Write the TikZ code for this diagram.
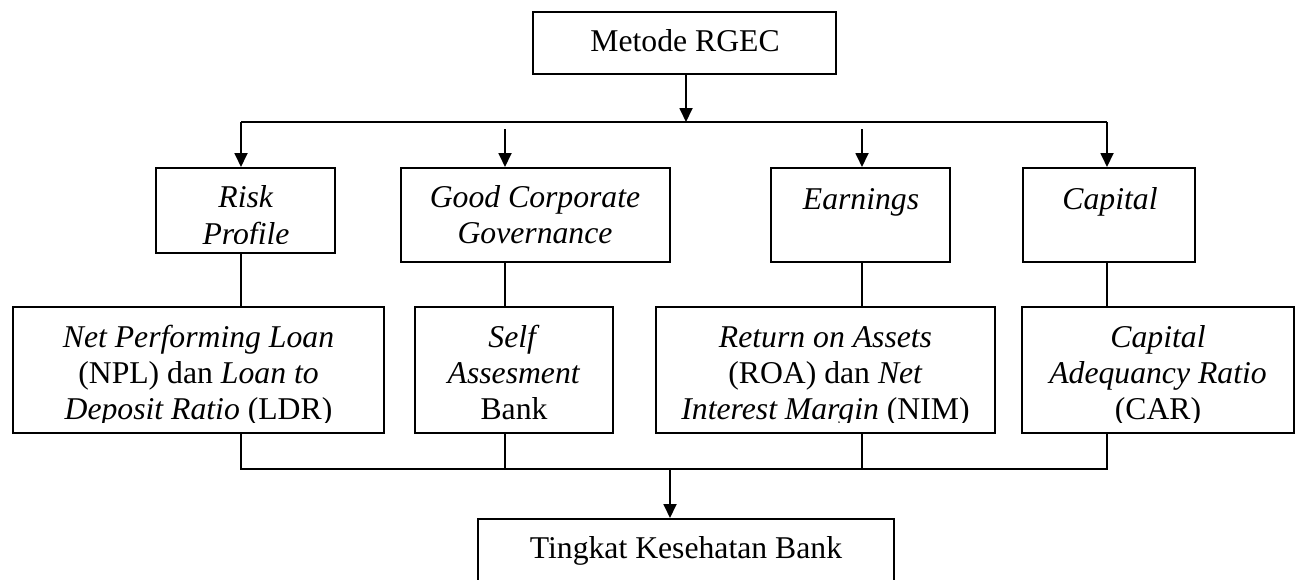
\documentclass[tikz,border=0pt]{standalone}
\usepackage{fontspec}
\setmainfont{Liberation Serif}
\usetikzlibrary{arrows.meta}
\begin{document}
\begin{tikzpicture}[x=1pt,y=-1pt,
  box/.style={draw, line width=2pt, rectangle, inner sep=0pt},
  txt/.style={anchor=base, inner sep=0pt, font=\fontsize{31.7}{36}\selectfont},
  conn/.style={line width=1.8pt},
  arr/.style={line width=1.8pt, -{Triangle[length=14pt,width=13pt]}}]
\clip (0,0) rectangle (1303,579);
% boxes
\node[box, minimum width=303pt, minimum height=62pt] (metode) at (684.5,43) {};
\node[box, minimum width=179pt, minimum height=85pt] (risk) at (245.5,210.5) {};
\node[box, minimum width=269pt, minimum height=94pt] (gcg) at (535.5,215) {};
\node[box, minimum width=179pt, minimum height=94pt] (earnings) at (860.5,215) {};
\node[box, minimum width=172pt, minimum height=94pt] (capital) at (1109,215) {};
\node[box, minimum width=371pt, minimum height=126pt] (npl) at (198.5,370) {};
\node[box, minimum width=198pt, minimum height=126pt] (self) at (514,370) {};
\node[box, minimum width=339pt, minimum height=126pt] (roa) at (825.5,370) {};
\node[box, minimum width=272pt, minimum height=126pt] (car) at (1158,370) {};
\node[box, minimum width=416pt, minimum height=120pt] (tingkat) at (686,579) {};
% texts
\node[txt] (metode-t) at (685,51) {Metode RGEC};
\node[txt] (risk-t1) at (246,207) {\textit{Risk}};
\begin{scope}
\clip (150,160) rectangle (340,243);
\node[txt] (risk-t2) at (246,244) {\textit{Profile}};
\end{scope}
\node[txt] (gcg-t1) at (535,207) {\textit{Good Corporate}};
\node[txt] (gcg-t2) at (535,243) {\textit{Governance}};
\node[txt] (earnings-t) at (861,209) {\textit{Earnings}};
\node[txt] (capital-t) at (1110,209) {\textit{Capital}};
\node[txt] (npl-t1) at (198.5,347) {\textit{Net Performing Loan}};
\node[txt] (npl-t2) at (198.5,383) {(NPL) dan \textit{Loan to}};
\node[txt] (self-t1) at (514,347) {\textit{Self}};
\node[txt] (self-t2) at (514,383) {\textit{Assesment}};
\node[txt] (roa-t1) at (825.5,347) {\textit{Return on Assets}};
\node[txt] (roa-t2) at (825.5,383) {(ROA) dan \textit{Net}};
\node[txt] (car-t1) at (1158,347) {\textit{Capital}};
\node[txt] (car-t2) at (1158,383) {\textit{Adequancy Ratio}};
\begin{scope}
\clip (10,395) rectangle (1300,422);
\node[txt] (npl-t3) at (198.5,419) {\textit{Deposit Ratio} (LDR)};
\node[txt] (self-t3) at (514,419) {Bank};
\node[txt] (roa-t3) at (825.5,419) {\textit{Interest Margin} (NIM)};
\node[txt] (car-t3) at (1158,419) {(CAR)};
\end{scope}
\node[txt] (tingkat-t) at (686,558) {Tingkat Kesehatan Bank};
% connectors top
\coordinate (h0) at (686,122);
\coordinate (hl) at (241,122);
\coordinate (hr) at (1107,122);
\coordinate (g0) at (505,129);
\coordinate (e0) at (862,129);
\draw[arr] (metode.south -| h0) -- (h0);
\draw[conn] (hl) -- (hr);
\draw[arr] (hl) -- (hl |- risk.north);
\draw[arr] (g0) -- (g0 |- gcg.north);
\draw[arr] (e0) -- (e0 |- earnings.north);
\draw[arr] (hr) -- (hr |- capital.north);
% middle
\draw[conn] (risk.south -| hl) -- (npl.north -| hl);
\draw[conn] (gcg.south -| g0) -- (self.north -| g0);
\draw[conn] (earnings.south -| e0) -- (roa.north -| e0);
\draw[conn] (capital.south -| hr) -- (car.north -| hr);
% bottom
\coordinate (bl) at (241,469);
\coordinate (bg) at (505,469);
\coordinate (be) at (862,469);
\coordinate (br) at (1107,469);
\coordinate (bt) at (670,469);
\draw[conn] (npl.south -| bl) -- (bl) -- (br) -- (car.south -| br);
\draw[conn] (self.south -| bg) -- (bg);
\draw[conn] (roa.south -| be) -- (be);
\draw[arr] (bt) -- (bt |- tingkat.north);
\end{tikzpicture}
\end{document}
